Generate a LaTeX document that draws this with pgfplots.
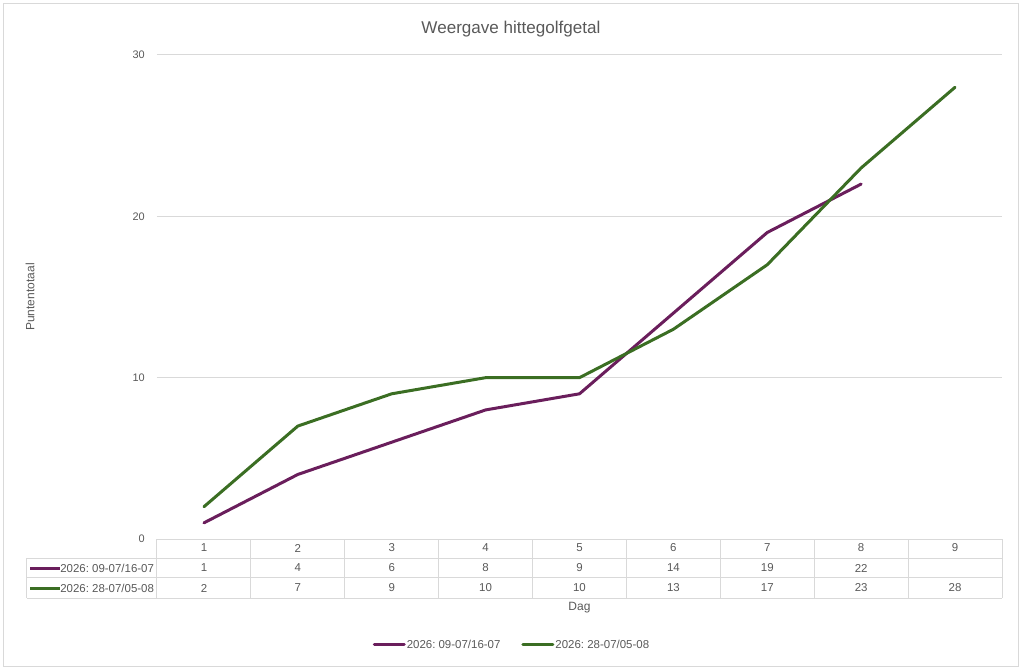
\documentclass[border=0pt]{standalone}
\usepackage{fontspec}
\setmainfont{Liberation Sans}
\usepackage{pgfplots}
\pgfplotsset{compat=1.18}
\definecolor{txt}{HTML}{595959}
\definecolor{gridc}{HTML}{D9D9D9}
\definecolor{pur}{HTML}{6A1E5C}
\definecolor{grn}{HTML}{3B6E23}
\newcommand{\tf}{\fontsize{8.6}{10}\selectfont}
\frenchspacing
\begin{document}
\frenchspacing
\begin{tikzpicture}
\useasboundingbox (-117.75pt,-99pt) rectangle (650.25pt,404.25pt);
\draw[gridc, line width=0.75pt] (-114.75pt,-95.25pt) rectangle (645.75pt,401.25pt);
\begin{axis}[
  at={(0,0)}, anchor=south west,
  scale only axis, width=633.75pt, height=363pt,
  xmin=0.5, xmax=9.5, ymin=0, ymax=30,
  clip=false,
  axis line style={draw=none},
  major tick length=0pt,
  xtick=\empty,
  ytick={0,10,20,30},
  ymajorgrids,
  major grid style={gridc, line width=0.75pt},
  /pgf/number format/assume math mode=true,
  yticklabel style={font=\fontsize{8.2}{10}\selectfont, text=txt, inner sep=0pt, xshift=-9pt},
  title={Weergave hittegolfgetal},
  title style={at={(axis description cs:0.4189,1.036)}, anchor=center, yshift=0pt, font=\fontsize{12.8}{15}\selectfont, text=txt, inner sep=0pt},
  xlabel={Dag},
  xlabel style={at={(axis description cs:0.5,-0.1426)}, anchor=center, font=\fontsize{9}{11}\selectfont, text=txt, inner sep=0pt},
  ylabel={Puntentotaal},
  ylabel style={at={(axis description cs:-0.1503,0.5)}, anchor=center, font=\fontsize{9}{11}\selectfont, text=txt, inner sep=0pt},
  legend columns=2,
  legend style={at={(axis description cs:0.4195,-0.219)}, anchor=center, draw=none, fill=none, font=\tf, text=txt, inner sep=0pt, nodes={inner sep=0.75pt}, /tikz/every even column/.append style={column sep=15pt}},
  legend image code/.code={\draw[#1] (0pt,0pt) -- (22.5pt,0pt);},
]
\addplot[pur, line width=2.25pt, line cap=round, line join=round] coordinates {
 (1,1) (2,4) (3,6) (4,8) (5,9) (6,14) (7,19) (8,22)};
\addlegendentry{2026: 09-07/16-07}
\addplot[grn, line width=2.25pt, line cap=round, line join=round] coordinates {
 (1,2) (2,7) (3,9) (4,10) (5,10) (6,13) (7,17) (8,23) (9,28)};
\addlegendentry{2026: 28-07/05-08}

% data table
\draw[gridc, line width=0.75pt]
  (axis cs:0.5,0) -- (axis cs:9.5,0)
  (axis cs:-0.8846,-1.178) -- (axis cs:9.5,-1.178)
  (axis cs:-0.8846,-2.417) -- (axis cs:9.5,-2.417)
  (axis cs:-0.8846,-3.657) -- (axis cs:9.5,-3.657)
  (axis cs:-0.8846,-1.178) -- (axis cs:-0.8846,-3.657)
  (axis cs:0.5,0) -- (axis cs:0.5,-3.657)
  (axis cs:1.5,0) -- (axis cs:1.5,-3.657)
  (axis cs:2.5,0) -- (axis cs:2.5,-3.657)
  (axis cs:3.5,0) -- (axis cs:3.5,-3.657)
  (axis cs:4.5,0) -- (axis cs:4.5,-3.657)
  (axis cs:5.5,0) -- (axis cs:5.5,-3.657)
  (axis cs:6.5,0) -- (axis cs:6.5,-3.657)
  (axis cs:7.5,0) -- (axis cs:7.5,-3.657)
  (axis cs:8.5,0) -- (axis cs:8.5,-3.657)
  (axis cs:9.5,0) -- (axis cs:9.5,-3.657);
\draw[pur, line width=2.25pt] (axis cs:-0.8526,-1.80) -- (axis cs:-0.5331,-1.80);
\draw[grn, line width=2.25pt] (axis cs:-0.8526,-3.04) -- (axis cs:-0.5331,-3.04);
\node[anchor=west, inner sep=0pt, font=\tf, text=txt] at (axis cs:-0.5331,-1.80) {2026: 09-07/16-07};
\node[anchor=west, inner sep=0pt, font=\tf, text=txt] at (axis cs:-0.5331,-3.04) {2026: 28-07/05-08};

\addplot[forget plot, draw=none, mark=none, nodes near coords, point meta=explicit symbolic,
  nodes near coords style={anchor=center, inner sep=0pt, font=\tf, text=txt}] coordinates {
 (1,-0.56)[1] (2,-0.56)[2] (3,-0.56)[3] (4,-0.56)[4] (5,-0.56)[5] (6,-0.56)[6] (7,-0.56)[7] (8,-0.56)[8] (9,-0.56)[9]};
\addplot[forget plot, draw=none, mark=none, nodes near coords, point meta=explicit symbolic,
  nodes near coords style={anchor=center, inner sep=0pt, font=\tf, text=txt}] coordinates {
 (1,-1.80)[1] (2,-1.80)[4] (3,-1.80)[6] (4,-1.80)[8] (5,-1.80)[9] (6,-1.80)[14] (7,-1.80)[19] (8,-1.80)[22]};
\addplot[forget plot, draw=none, mark=none, nodes near coords, point meta=explicit symbolic,
  nodes near coords style={anchor=center, inner sep=0pt, font=\tf, text=txt}] coordinates {
 (1,-3.04)[2] (2,-3.04)[7] (3,-3.04)[9] (4,-3.04)[10] (5,-3.04)[10] (6,-3.04)[13] (7,-3.04)[17] (8,-3.04)[23] (9,-3.04)[28]};
\end{axis}
\end{tikzpicture}
\end{document}
